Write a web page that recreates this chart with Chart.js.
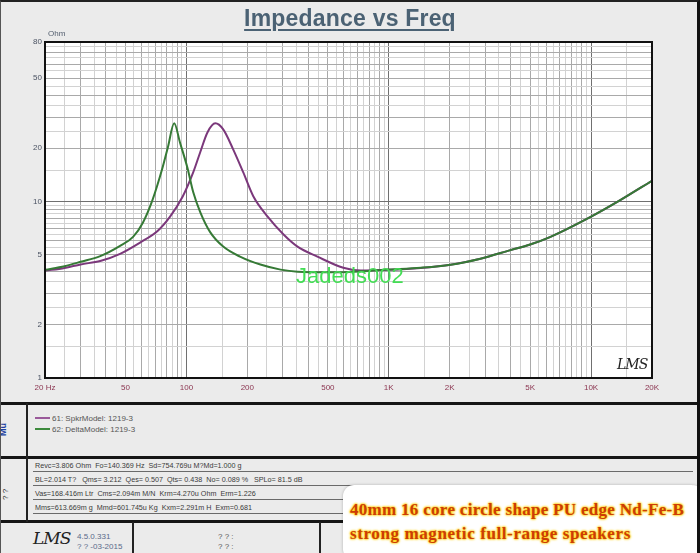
<!DOCTYPE html>
<html>
<head>
<meta charset="utf-8">
<script src="https://cdn.jsdelivr.net/npm/chart.js@4/dist/chart.umd.min.js"></script>
<style>
html,body{margin:0;padding:0;}
body{width:700px;height:553px;background:#ebebeb;position:relative;overflow:hidden;font-family:"Liberation Sans",Arial,sans-serif;}
#c{position:absolute;left:0;top:0;}
.abs{position:absolute;white-space:nowrap;}
#frame{position:absolute;left:0;top:0;width:700px;height:553px;box-sizing:border-box;border-top:2px solid #222;border-right:3px solid #111;border-left:1px solid #555;pointer-events:none;}
#title{left:0;width:700px;top:5px;text-align:center;font-weight:bold;font-size:23px;color:#4b6274;letter-spacing:0.2px;}
#title span{text-decoration:underline;text-decoration-thickness:2px;text-underline-offset:3px;}
#ohm{left:48px;top:29px;font-size:8px;color:#556070;}
#wm{left:296px;top:265px;font-size:22px;color:#44dd55;line-height:1;}
#lmsplot{left:617px;top:356px;font:italic 14px "DejaVu Serif",serif;color:#222;letter-spacing:-1px;}
.hl{position:absolute;left:0;width:700px;height:3px;background:#151515;}
.vl{position:absolute;width:2px;background:#222;}
.leg{position:absolute;left:35px;font-size:8px;color:#555;line-height:10px;}
.leg i{display:inline-block;width:15px;height:2px;vertical-align:middle;margin-right:2px;position:relative;top:-1px;}
.par{position:absolute;left:33px;width:660px;height:12px;border-bottom:1px solid #6a6a6a;font-size:7.2px;line-height:12px;color:#3a3a3a;white-space:pre;padding-left:2px;box-sizing:border-box;}
.bot{position:absolute;font-size:8px;color:#5a6a8a;line-height:10px;}
#box{left:343px;top:485px;width:360px;height:75px;background:#fff;border-radius:11px;box-shadow:0 0 3px rgba(0,0,0,0.25);}
.ad{position:absolute;left:350px;font-family:"Liberation Serif","DejaVu Serif",serif;font-weight:bold;font-size:17px;color:#cc3c08;line-height:20px;white-space:nowrap;text-shadow:0 0 2px #ffd400,0 0 2px #ffd400,0 0 3px #ffc800;}
</style>
</head>
<body>
<canvas id="c" width="700" height="400"></canvas>
<div id="title" class="abs"><span>Impedance vs Freq</span></div>
<div id="ohm" class="abs">Ohm</div>
<div id="wm" class="abs">Jadeds002</div>
<div id="lmsplot" class="abs">LMS</div>

<div class="hl" style="top:402px"></div>
<div class="hl" style="top:456px"></div>
<div class="hl" style="top:520px"></div>
<div class="vl" style="left:26px;top:403px;height:119px"></div>
<div class="vl" style="left:132px;top:522px;height:31px;width:1.5px"></div>
<div class="vl" style="left:319px;top:522px;height:31px;width:1.5px"></div>
<div class="abs" style="left:-2px;top:436px;font-size:9px;font-weight:bold;color:#2040a0;transform:rotate(-90deg);transform-origin:left top;">Mu</div>
<div class="abs" style="left:1px;top:500px;font-size:8px;color:#333;transform:rotate(-90deg);transform-origin:left top;">? ?</div>

<div class="leg" style="top:414px"><i style="background:#9a5a9a"></i>61: SpkrModel: 1219-3</div>
<div class="leg" style="top:425px"><i style="background:#3d8a3d"></i>62: DeltaModel: 1219-3</div>

<div class="par" style="top:460px">Revc=3.806 Ohm  Fo=140.369 Hz  Sd=754.769u M?Md=1.000 g</div>
<div class="par" style="top:474px">BL=2.014 T?   Qms= 3.212  Qes= 0.507  Qts= 0.438  No= 0.089 %   SPLo= 81.5 dB</div>
<div class="par" style="top:488px">Vas=168.416m Ltr  Cms=2.094m M/N  Krm=4.270u Ohm  Erm=1.226</div>
<div class="par" style="top:502px">Mms=613.669m g  Mmd=601.745u Kg  Kxm=2.291m H  Exm=0.681</div>

<div class="abs" style="left:33px;top:528px;font:italic 17px 'DejaVu Serif',serif;color:#222;letter-spacing:-1px;">LMS</div>
<div class="bot" style="left:77px;top:532px">4.5.0.331</div>
<div class="bot" style="left:77px;top:542px">? ? -03-2015</div>
<div class="bot" style="left:218px;top:532px;color:#555">? ? :</div>
<div class="bot" style="left:218px;top:542px;color:#555">? ? :</div>

<div id="box" class="abs"></div>
<div class="ad" style="top:500px;letter-spacing:0.3px">40mm 16 core circle shape PU edge Nd-Fe-B</div>
<div class="ad" style="top:524px;letter-spacing:0.6px">strong magnetic full-range speakers</div>
<div id="frame"></div>

<script>
// ---- data ----
const greenFreq = [20, 25, 30, 37.5, 47, 54.5, 61, 68, 75.8, 81, 87, 93, 101, 108, 117, 131, 152, 184, 232, 292, 354, 514, 726, 1000, 1440, 2020, 2840, 4000, 5000, 6300, 10000, 13600, 20000];
const greenOhm  = [4.1, 4.3, 4.55, 4.9, 5.6, 6.3, 7.6, 10.2, 15.2, 20.3, 27.7, 21.5, 15.6, 11.3, 8.7, 6.7, 5.55, 4.87, 4.39, 4.11, 4.0, 3.97, 4.02, 4.11, 4.21, 4.38, 4.74, 5.3, 5.7, 6.3, 8.2, 10.0, 13.1];

const purpleFreq = [20, 25, 30, 37.5, 47, 59, 72, 83, 96, 108, 117, 127, 139, 152, 170, 191, 214, 252, 302, 354, 444, 596, 726, 1000, 1440, 2020, 2840, 4000, 5000, 6300, 10000, 13600, 20000];
const purpleOhm  = [4.05, 4.2, 4.4, 4.6, 5.05, 5.85, 6.8, 8.2, 10.7, 14.6, 19.0, 24.6, 27.7, 25.6, 19.8, 14.6, 10.7, 8.2, 6.5, 5.55, 4.87, 4.21, 4.06, 4.1, 4.2, 4.38, 4.74, 5.3, 5.7, 6.3, 8.2, 10.0, 13.1];

const seriesNames = ['62: DeltaModel: 1219-3', '61: SpkrModel: 1219-3'];

const xLabelValues = [20, 50, 100, 200, 500, 1000, 2000, 5000, 10000, 20000];
const xLabelTexts  = ['20 Hz', '50', '100', '200', '500', '1K', '2K', '5K', '10K', '20K'];
const yLabelValues = [1, 2, 5, 10, 20, 50, 80];
const yLabelTexts  = ['1', '2', '5', '10', '20', '50', '80'];
const gridSteps = [1, 1.5, 2, 2.5, 3, 3.5, 4, 4.5, 5, 5.5, 6, 6.5, 7, 7.5, 8, 8.5, 9, 9.5];

// ---- helpers ----
function gridValues(decades, lo, hi) {
  const out = [];
  decades.forEach(d => gridSteps.forEach(s => {
    const v = Math.round(d * s * 1000) / 1000;
    if (v >= lo - 1e-9 && v <= hi + 1e-9) out.push(v);
  }));
  return out;
}
const xGrid = gridValues([10, 100, 1000, 10000], 20, 20000);
const yGrid = gridValues([1, 10], 1, 80);

function lookup(vals, texts, v) {
  for (let i = 0; i < vals.length; i++) if (Math.abs(vals[i] - v) < 1e-6 * vals[i]) return texts[i];
  return '';
}
function gridColor(v) {
  const l = Math.log10(v);
  if (Math.abs(l - Math.round(l)) < 1e-9) return '#707070';
  const m = v / Math.pow(10, Math.floor(l + 1e-9));
  if (Math.abs(m - Math.round(m)) < 1e-9) return '#a9a9a9';
  return '#d2d2d2';
}
const toPts = (xs, ys) => xs.map((x, i) => ({x: x, y: ys[i]}));

const plotFrame = {
  id: 'plotFrame',
  beforeDraw(chart) {
    const a = chart.chartArea, ctx = chart.ctx;
    ctx.save(); ctx.fillStyle = '#ffffff';
    ctx.fillRect(a.left, a.top, a.right - a.left, a.bottom - a.top);
    ctx.restore();
  },
  afterDatasetsDraw(chart) {
    const a = chart.chartArea, ctx = chart.ctx;
    ctx.save(); ctx.strokeStyle = '#111'; ctx.lineWidth = 2;
    ctx.strokeRect(a.left, a.top, a.right - a.left, a.bottom - a.top);
    ctx.restore();
  }
};

new Chart(document.getElementById('c'), {
  type: 'line',
  data: {
    datasets: [
      { label: seriesNames[0], data: toPts(greenFreq, greenOhm), borderColor: '#367a36', borderWidth: 2, pointRadius: 0, cubicInterpolationMode: 'monotone', fill: false },
      { label: seriesNames[1], data: toPts(purpleFreq, purpleOhm), borderColor: '#7b387b', borderWidth: 2, pointRadius: 0, cubicInterpolationMode: 'monotone', fill: false }
    ]
  },
  options: {
    responsive: false,
    animation: false,
    events: [],
    layout: { padding: { left: 0, right: 48, top: 42, bottom: 0 } },
    plugins: { legend: { display: false }, tooltip: { enabled: false }, title: { display: false } },
    scales: {
      x: {
        type: 'logarithmic', min: 20, max: 20000,
        afterBuildTicks: s => { s.ticks = xGrid.map(v => ({ value: v })); },
        afterFit: s => { s.height = 22; },
        grid: { color: c => gridColor(c.tick.value), lineWidth: 1, drawTicks: false },
        border: { display: false },
        ticks: { autoSkip: false, maxRotation: 0, minRotation: 0, padding: 5, color: '#8b3550',
                 font: { size: 8, family: 'Liberation Sans' },
                 callback: v => lookup(xLabelValues, xLabelTexts, v) }
      },
      y: {
        type: 'logarithmic', min: 1, max: 80,
        afterBuildTicks: s => { s.ticks = yGrid.map(v => ({ value: v })); },
        afterFit: s => { s.width = 45; },
        grid: { color: c => gridColor(c.tick.value), lineWidth: 1, drawTicks: false },
        border: { display: false },
        ticks: { autoSkip: false, padding: 3, color: '#4a5262',
                 font: { size: 8, family: 'Liberation Sans' },
                 callback: v => lookup(yLabelValues, yLabelTexts, v) }
      }
    }
  },
  plugins: [plotFrame]
});
</script>
</body>
</html>
